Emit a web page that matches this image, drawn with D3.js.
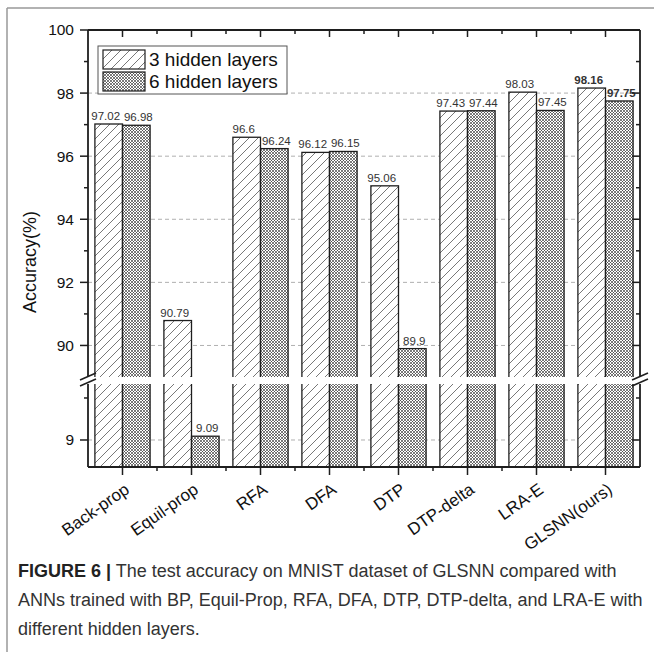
<!DOCTYPE html>
<html><head><meta charset="utf-8">
<script src="https://cdn.jsdelivr.net/npm/d3@7"></script>
<style>
html,body{margin:0;padding:0;background:#fff;}
svg{display:block;font-family:"Liberation Sans",Arial,sans-serif;}
</style></head>
<body>
<svg id="c" width="654" height="652"></svg>
<script>
const categories = ["Back-prop","Equil-prop","RFA","DFA","DTP","DTP-delta","LRA-E","GLSNN(ours)"];
const hidden3 = [97.02, 90.79, 96.6, 96.12, 95.06, 97.43, 98.03, 98.16];
const hidden6 = [96.98, 9.09, 96.24, 96.15, 89.9, 97.44, 97.45, 97.75];
const seriesNames = ["3 hidden layers", "6 hidden layers"];
const upperMajor = [90, 92, 94, 96, 98, 100];
const upperMinor = [91, 93, 95, 97, 99];
const lowerMajor = [9];
const lowerMinor = [10];
const captionLines = [
  ["FIGURE 6 |", " The test accuracy on MNIST dataset of GLSNN compared with"],
  ["", "ANNs trained with BP, Equil-Prop, RFA, DFA, DTP, DTP-delta, and LRA-E with"],
  ["", "different hidden layers."]
];

const svg = d3.select("#c");
const L = 88, R = 640, T = 30, B = 467;
const upBottom = 377, lowTop = 384;
const x = d3.scaleBand().domain(categories).range([L, R]).paddingInner(0.2).paddingOuter(0.1);
const yUp = d3.scaleLinear().domain([89, 100]).range([upBottom, T]);
const yLow = d3.scaleLinear().domain([8.357, 10.333]).range([B, lowTop]);
const dark = "#1e1e1e";

// patterns
const defs = svg.append("defs");
const ph = defs.append("pattern").attr("id","hatch").attr("patternUnits","userSpaceOnUse")
  .attr("width",9).attr("height",9);
ph.append("rect").attr("width",9).attr("height",9).attr("fill","#fff");
ph.append("path").attr("d","M-1,10 L10,-1 M-2,2 L2,-2 M7,11 L11,7").attr("stroke","#555").attr("stroke-width",0.8);
const pc = defs.append("pattern").attr("id","cross").attr("patternUnits","userSpaceOnUse")
  .attr("width",3).attr("height",3);
pc.append("rect").attr("width",3).attr("height",3).attr("fill","#fff");
pc.append("path").attr("d","M0,0 L3,3 M3,0 L0,3").attr("stroke","#333").attr("stroke-width",0.65);

// frame
svg.append("line").attr("x1",7).attr("y1",8).attr("x2",7).attr("y2",652).attr("stroke","#999").attr("stroke-width",1.5);
svg.append("line").attr("x1",7).attr("y1",8).attr("x2",654).attr("y2",8).attr("stroke","#999").attr("stroke-width",1.5);

// gridlines
const grid = svg.append("g").attr("stroke","#b0b0b0").attr("stroke-width",1).attr("stroke-dasharray","4,3");
upperMajor.filter(v => v < 100).forEach(v => grid.append("line").attr("x1",L).attr("x2",R).attr("y1",yUp(v)).attr("y2",yUp(v)));
lowerMajor.forEach(v => grid.append("line").attr("x1",L).attr("x2",R).attr("y1",yLow(v)).attr("y2",yLow(v)));

// bars
const bw = x.bandwidth() / 2;
const series = [hidden3, hidden6];
const fills = ["url(#hatch)", "url(#cross)"];
const labelShift = [-3, 2];
const barG = svg.append("g");
categories.forEach((c, i) => {
  series.forEach((s, k) => {
    const v = s[i];
    const bx = x(c) + k * bw;
    if (v >= 89) {
      barG.append("rect").attr("x",bx).attr("y",yUp(v)).attr("width",bw).attr("height",upBottom + 3 - yUp(v))
        .attr("fill",fills[k]).attr("stroke",dark).attr("stroke-width",1.3);
      barG.append("rect").attr("x",bx).attr("y",lowTop - 3).attr("width",bw).attr("height",B - lowTop + 3)
        .attr("fill",fills[k]).attr("stroke",dark).attr("stroke-width",1.3);
    } else {
      barG.append("rect").attr("x",bx).attr("y",yLow(v)).attr("width",bw).attr("height",B - yLow(v))
        .attr("fill",fills[k]).attr("stroke",dark).attr("stroke-width",1.3);
    }
    const yv = v >= 89 ? yUp(v) : yLow(v);
    barG.append("text").attr("x",bx + bw/2 + labelShift[k]).attr("y",yv - 4).attr("text-anchor","middle")
      .attr("font-size",11.5).attr("fill","#333")
      .attr("font-weight", i === categories.length - 1 ? "bold" : "normal")
      .text(String(v));
  });
});

// axes frame
const ax = svg.append("g").attr("stroke",dark).attr("stroke-width",1.8).attr("fill","none");
ax.append("line").attr("x1",L).attr("x2",R).attr("y1",T).attr("y2",T);
ax.append("line").attr("x1",L).attr("x2",R).attr("y1",B).attr("y2",B);
ax.append("line").attr("x1",L).attr("x2",L).attr("y1",T).attr("y2",B);
ax.append("line").attr("x1",R).attr("x2",R).attr("y1",T).attr("y2",B);

// y ticks
const tk = svg.append("g").attr("stroke",dark).attr("stroke-width",1.5);
const yTicks = [
  ...upperMajor.map(v => ({y: yUp(v), len: 8, v})),
  ...upperMinor.map(v => ({y: yUp(v), len: 4})),
  ...lowerMajor.map(v => ({y: yLow(v), len: 8, v})),
  ...lowerMinor.map(v => ({y: yLow(v), len: 4}))
];
yTicks.forEach(t => {
  tk.append("line").attr("x1",L - t.len).attr("x2",L).attr("y1",t.y).attr("y2",t.y);
  tk.append("line").attr("x1",R - t.len).attr("x2",R).attr("y1",t.y).attr("y2",t.y);
});
yTicks.filter(t => t.v !== undefined).forEach(t => {
  svg.append("text").attr("x",74).attr("y",t.y).attr("dy","0.35em").attr("text-anchor","end")
    .attr("font-size",15.5).attr("fill","#111").text(t.v);
});

// x ticks
const step = x.step();
categories.forEach((c, i) => {
  const cx = x(c) + x.bandwidth()/2;
  tk.append("line").attr("x1",cx).attr("x2",cx).attr("y1",B).attr("y2",B + 8);
  tk.append("line").attr("x1",cx).attr("x2",cx).attr("y1",T).attr("y2",T + 7);
  if (i < categories.length - 1) {
    const bx = cx + step/2;
    tk.append("line").attr("x1",bx).attr("x2",bx).attr("y1",B).attr("y2",B + 4);
    tk.append("line").attr("x1",bx).attr("x2",bx).attr("y1",T).attr("y2",T + 4);
  }
  svg.append("text").attr("text-anchor","end").attr("font-size",17).attr("fill","#111")
    .attr("transform",`translate(${cx + 8},${B + 25}) rotate(-35)`).text(c);
});

// axis break
svg.append("rect").attr("x",L - 10).attr("y",upBottom).attr("width",R - L + 20).attr("height",lowTop - upBottom).attr("fill","#fff");
[L, R].forEach(ex => {
  [0, 6].forEach(off => {
    svg.append("line").attr("x1",ex - 8).attr("y1",lowTop + 2 - off).attr("x2",ex + 8).attr("y2",upBottom - 4 - off + 6)
      .attr("stroke",dark).attr("stroke-width",1.6);
  });
});

// y axis title
svg.append("text").attr("transform","translate(36,262) rotate(-90)").attr("text-anchor","middle")
  .attr("font-size",18).attr("fill","#111").text("Accuracy(%)");

// legend
const lg = svg.append("g");
lg.append("rect").attr("x",98).attr("y",46).attr("width",189).attr("height",48).attr("fill","#fff")
  .attr("stroke","#555").attr("stroke-width",1);
seriesNames.forEach((n, k) => {
  lg.append("rect").attr("x",103).attr("y",50 + k*22).attr("width",42).attr("height",19)
    .attr("fill",fills[k]).attr("stroke",dark).attr("stroke-width",1.2);
  lg.append("text").attr("x",149).attr("y",66 + k*22).attr("font-size",19).attr("fill","#111").text(n);
});

// caption
captionLines.forEach((ln, j) => {
  const t = svg.append("text").attr("x",18).attr("y",577 + j*29).attr("font-size",18).attr("fill","#333");
  if (ln[0]) t.append("tspan").attr("font-weight","bold").attr("fill","#222").text(ln[0]);
  t.append("tspan").text(ln[1]);
});
</script>
</body></html>
